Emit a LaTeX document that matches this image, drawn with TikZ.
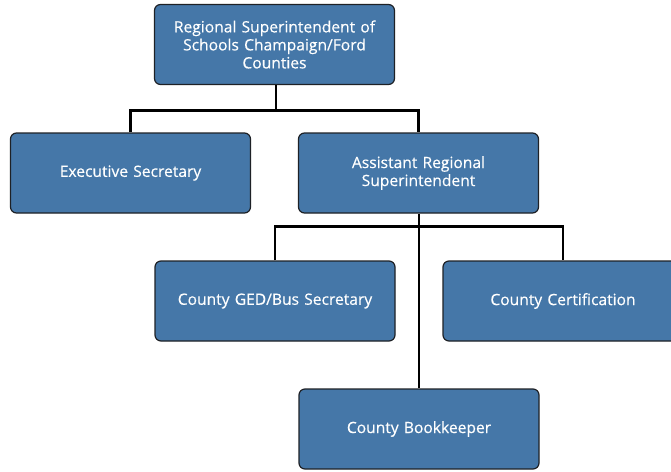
\documentclass[tikz,border=0pt]{standalone}
\usepackage{fontspec}
\setmainfont{Open Sans}
\newfontfamily\boxfont{Open Sans}[FakeBold=0.35]
\definecolor{boxblue}{HTML}{4577A8}
\definecolor{boxedge}{HTML}{1E2126}
\begin{document}
\begin{tikzpicture}[x=1pt,y=-1pt,
  orgbox/.style={draw=boxedge, line width=1.2pt, fill=boxblue, rounded corners=6pt,
    minimum width=240pt, minimum height=80pt, text width=236pt, text=white,
    font=\boxfont\fontsize{15.6}{18}\selectfont, align=center, inner sep=2pt},
  link/.style={draw=black, line width=2.4pt}]
\clip (0,0) rectangle (671,471);
\fill[white] (0,0) rectangle (671,471);
\node[orgbox] (rs) at (274.5,44.5) {Regional Superintendent of\\ Schools Champaign/Ford\\ Counties};
\node[orgbox] (es) at (130.5,173) {Executive Secretary};
\node[orgbox] (ar) at (418.5,173) {Assistant Regional\\ Superintendent};
\node[orgbox] (ged) at (275,301) {County GED/Bus Secretary};
\node[orgbox] (cc) at (563,301) {County Certification};
\node[orgbox] (bk) at (419,429) {County Bookkeeper};
\draw[link] (rs.south) ++(1.5,0) coordinate (rsb) -- ++(0,25.5) coordinate (j1);
\draw[link] (es.north) |- (j1) -| (ar.north);
\draw[link] (ar.south) ++(0.5,0) coordinate (arb) -- (bk.north);
\path (arb) ++(0,13) coordinate (j2);
\draw[link] (ged.north) |- (j2) -| (cc.north);
\end{tikzpicture}
\end{document}
